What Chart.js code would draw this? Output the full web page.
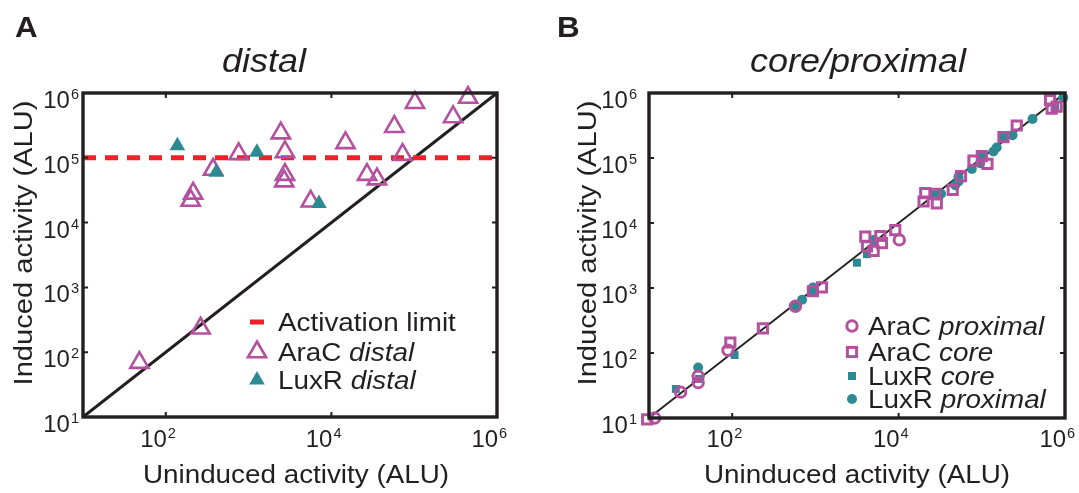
<!DOCTYPE html>
<html><head><meta charset="utf-8">
<script src="https://cdn.jsdelivr.net/npm/chart.js@4/dist/chart.umd.min.js"></script>
<style>
html,body{margin:0;padding:0;background:#fff;width:1079px;height:493px;overflow:hidden}
#wa{position:absolute;left:0;top:0;width:540px;height:493px}
#wb{position:absolute;left:540px;top:0;width:539px;height:493px}
</style></head><body>
<div id="wa"><canvas id="ca" width="540" height="493"></canvas></div>
<div id="wb"><canvas id="cb" width="539" height="493"></canvas></div>
<script>
// ---------- data ----------
const axisMin = 10, axisMax = 1e6;
const xTickExps = [2, 4, 6];          // labelled x ticks (10^e)
const yTickExps = [1, 2, 3, 4, 5, 6]; // labelled y ticks (10^e)
const activationLimit = 1e5;
const identityLine = [10, 1e6];

const panelTitles = ['distal', 'core/proximal'];
const panelLetters = ['A', 'B'];
const xAxisTitle = 'Uninduced activity (ALU)';
const yAxisTitle = 'Induced activity (ALU)';
const seriesNamesA = ['Activation limit', 'AraC distal', 'LuxR distal'];
const seriesNamesB = ['AraC proximal', 'AraC core', 'LuxR core', 'LuxR proximal'];

// Panel A — distal
const aracDistalX = [48, 263, 214, 200, 372, 759, 2450, 2750, 2750, 2690, 5620, 14800, 26900, 35500, 57500, 72400, 102000, 295000, 447000];
const aracDistalY = [69, 234, 28200, 21900, 66000, 115000, 240000, 123000, 55000, 43700, 21300, 170000, 55000, 46800, 302000, 112000, 708000, 427000, 851000];
const luxrDistalX = [138, 407, 1260, 7080];
const luxrDistalY = [153000, 59600, 122000, 19800];

// Panel B — core / proximal
const aracProximalX = [11.7, 24, 39, 39, 89, 575, 10200];
const aracProximalY = [10, 25, 44, 35, 110, 525, 5500];
const aracCoreX = [9.5, 95, 234, 933, 1200, 3980, 4170, 5010, 6030, 6310, 9120, 19950, 20900, 27500, 28800, 44700, 56200, 79400, 100000, 117000, 182000, 263000, 661000, 692000, 794000];
const aracCoreY = [9.5, 145, 240, 891, 1020, 6170, 4370, 3720, 6310, 4900, 7760, 21400, 28800, 28200, 19950, 32400, 52500, 91200, 107000, 81300, 209000, 316000, 776000, 575000, 617000];
const luxrCoreX = [21, 40, 107, 933, 3160, 4170, 5010, 27500, 100000, 182000, 759000];
const luxrCoreY = [28, 40, 93, 891, 2450, 3310, 5130, 27500, 107000, 209000, 631000];
const luxrProximalX = [39, 575, 692, 933, 5010, 32400, 47900, 52500, 52500, 75900, 95500, 138000, 151000, 234000, 407000, 955000];
const luxrProximalY = [60, 525, 661, 1020, 5500, 28200, 38000, 43700, 51300, 67600, 83200, 126000, 145000, 224000, 398000, 851000];

// ---------- style ----------
const INK = '#231f20', MAG = '#b4519e', TEAL = '#2c8a92', RED = '#ec2227';
const FAM = '"Liberation Sans", Arial, Helvetica, sans-serif';

function pts(xs, ys) { return xs.map((x, i) => ({ x: x, y: ys[i] })); }

function drawText(ctx, str, x, y, font, sx, align) {
  ctx.save();
  ctx.font = font;
  const w = ctx.measureText(str).width * sx;
  let x0 = x;
  if (align === 'center') x0 = x - w / 2; else if (align === 'right') x0 = x - w;
  ctx.translate(x0, y); ctx.scale(sx, 1);
  ctx.textAlign = 'left'; ctx.textBaseline = 'alphabetic';
  ctx.fillText(str, 0, 0);
  ctx.restore();
  return w;
}
function measure(ctx, str, font, sx) { ctx.save(); ctx.font = font; const w = ctx.measureText(str).width * sx; ctx.restore(); return w; }

const TICKF = '23px ' + FAM, SUPF = '14px ' + FAM;
function drawPow(ctx, e, x, base, mode) {
  const wTen = measure(ctx, '10', TICKF, 1.04), wSup = measure(ctx, String(e), SUPF, 1.04);
  let x0 = mode === 'right' ? x - wTen - 1 - wSup : x - wTen;
  drawText(ctx, '10', x0, base, TICKF, 1.04, 'left');
  drawText(ctx, String(e), x0 + wTen + 1, base - 9, SUPF, 1.04, 'left');
}

function drawMarker(ctx, kind, x, y) {
  ctx.save();
  if (kind === 'dash') {
    ctx.fillStyle = RED; ctx.fillRect(x - 7, y - 2.5, 14, 5);
  } else if (kind === 'triOpen' || kind === 'triFilled') {
    const r = kind === 'triOpen' ? 10.5 : 9;
    ctx.beginPath();
    ctx.moveTo(x, y - r);
    ctx.lineTo(x + Math.sin(2 * Math.PI / 3) * r, y + r / 2);
    ctx.lineTo(x - Math.sin(2 * Math.PI / 3) * r, y + r / 2);
    ctx.closePath();
    if (kind === 'triOpen') { ctx.strokeStyle = MAG; ctx.lineWidth = 2.6; ctx.stroke(); }
    else { ctx.fillStyle = TEAL; ctx.fill(); }
  } else if (kind === 'circOpen') {
    ctx.beginPath(); ctx.arc(x, y, 5.2, 0, 2 * Math.PI);
    ctx.strokeStyle = MAG; ctx.lineWidth = 3; ctx.stroke();
  } else if (kind === 'sqOpen') {
    ctx.strokeStyle = MAG; ctx.lineWidth = 3; ctx.strokeRect(x - 4.6, y - 4.6, 9.2, 9.2);
  } else if (kind === 'sqFilled') {
    ctx.fillStyle = TEAL; ctx.fillRect(x - 4, y - 4, 8, 8);
  } else if (kind === 'circFilled') {
    ctx.beginPath(); ctx.arc(x, y, 5, 0, 2 * Math.PI); ctx.fillStyle = TEAL; ctx.fill();
  }
  ctx.restore();
}

function decor(cfg) {
  return {
    id: 'decor' + cfg.letter,
    afterDraw(chart) {
      const ctx = chart.ctx, ca = chart.chartArea, xs = chart.scales.x, ys = chart.scales.y;
      ctx.save();
      ctx.fillStyle = INK; ctx.strokeStyle = INK;
      ctx.lineWidth = 3.4;
      ctx.strokeRect(ca.left, ca.top, ca.right - ca.left, ca.bottom - ca.top);
      ctx.lineWidth = 2; ctx.beginPath();
      xTickExps.forEach(e => {
        const v = Math.pow(10, e); if (v <= axisMin || v >= axisMax) return;
        const px = xs.getPixelForValue(v);
        ctx.moveTo(px, ca.bottom); ctx.lineTo(px, ca.bottom - 5);
        ctx.moveTo(px, ca.top); ctx.lineTo(px, ca.top + 5);
      });
      yTickExps.forEach(e => {
        const v = Math.pow(10, e); if (v <= axisMin || v >= axisMax) return;
        const py = ys.getPixelForValue(v);
        ctx.moveTo(ca.left, py); ctx.lineTo(ca.left + 5, py);
        ctx.moveTo(ca.right, py); ctx.lineTo(ca.right - 5, py);
      });
      ctx.stroke();
      ctx.fillStyle = INK;
      xTickExps.forEach(e => drawPow(ctx, e, xs.getPixelForValue(Math.pow(10, e)) + 1, 447, 'tenRight'));
      yTickExps.forEach(e => drawPow(ctx, e, cfg.yTickRight, ys.getPixelForValue(Math.pow(10, e)) + 15, 'right'));
      drawText(ctx, xAxisTitle, cfg.xTitleX, 483, '26px ' + FAM, 1.07, 'center');
      ctx.save();
      ctx.translate(cfg.yTitleX, cfg.yTitleY); ctx.rotate(-Math.PI / 2);
      drawText(ctx, yAxisTitle, 0, 0, '26px ' + FAM, 1.12, 'center');
      ctx.restore();
      drawText(ctx, cfg.title, cfg.titleX, 72, 'italic 33px ' + FAM, 1.09, 'center');
      drawText(ctx, cfg.letter, cfg.letterX, 37, 'bold 29px ' + FAM, 1.08, 'left');
      const LF = '26px ' + FAM, LFI = 'italic 26px ' + FAM;
      cfg.legend.forEach((row, i) => {
        const base = cfg.legendBase[i];
        drawMarker(ctx, row.marker, cfg.legendMarkerX, base - 9);
        ctx.fillStyle = INK;
        const words = row.name.split(' ');
        const italic = words[0] === 'AraC' || words[0] === 'LuxR';
        if (italic) {
          const w = drawText(ctx, words[0] + ' ', cfg.legendTextX, base, LF, 1.07, 'left');
          drawText(ctx, words.slice(1).join(' '), cfg.legendTextX + w, base, LFI, 1.07, 'left');
        } else {
          drawText(ctx, row.name, cfg.legendTextX, base, LF, 1.07, 'left');
        }
      });
      ctx.restore();
    }
  };
}

function logScales() {
  return {
    x: { type: 'logarithmic', min: axisMin, max: axisMax, display: false },
    y: { type: 'logarithmic', min: axisMin, max: axisMax, display: false }
  };
}

const commonOpts = (pad) => ({
  responsive: false, animation: false, devicePixelRatio: 1,
  layout: { padding: pad },
  scales: logScales(),
  plugins: { legend: { display: false }, tooltip: { enabled: false } },
  events: []
});

// ---------- Panel A ----------
new Chart(document.getElementById('ca'), {
  type: 'scatter',
  data: {
    datasets: [
      { label: seriesNamesA[1], data: pts(aracDistalX, aracDistalY), pointStyle: 'triangle', pointRadius: 10.5,
        borderWidth: 2.6, pointBorderWidth: 2.6, borderColor: MAG, backgroundColor: 'rgba(0,0,0,0)', order: 2, clip: false },
      { label: seriesNamesA[2], data: pts(luxrDistalX, luxrDistalY), pointStyle: 'triangle', pointRadius: 9,
        borderWidth: 0, pointBorderWidth: 0, borderColor: TEAL, backgroundColor: TEAL, order: 1, clip: false },
      { type: 'line', label: 'identity', data: pts(identityLine, identityLine), borderColor: INK, borderWidth: 3,
        pointRadius: 0, order: 6 },
      { type: 'line', label: seriesNamesA[0], data: pts(identityLine, [activationLimit, activationLimit]), borderColor: RED,
        borderWidth: 5, borderDash: [13, 9], pointRadius: 0, order: 5 }
    ]
  },
  options: commonOpts({ left: 83, right: 43, top: 93, bottom: 76 }),
  plugins: [decor({
    letter: panelLetters[0], title: panelTitles[0], titleX: 264, letterX: 15,
    yTickRight: 79, xTitleX: 296, yTitleX: 32, yTitleY: 243,
    legendMarkerX: 257, legendTextX: 278, legendBase: [331, 361, 389],
    legend: [{ name: seriesNamesA[0], marker: 'dash' }, { name: seriesNamesA[1], marker: 'triOpen' }, { name: seriesNamesA[2], marker: 'triFilled' }]
  })]
});

// ---------- Panel B ----------
new Chart(document.getElementById('cb'), {
  type: 'scatter',
  data: {
    datasets: [
      { label: seriesNamesB[0], data: pts(aracProximalX, aracProximalY), pointStyle: 'circle', pointRadius: 5.2,
        borderWidth: 3, pointBorderWidth: 3, borderColor: MAG, backgroundColor: 'rgba(0,0,0,0)', order: 1, clip: false },
      { label: seriesNamesB[1], data: pts(aracCoreX, aracCoreY), pointStyle: 'rect', pointRadius: 6.5,
        borderWidth: 3, pointBorderWidth: 3, borderColor: MAG, backgroundColor: 'rgba(0,0,0,0)', order: 2, clip: false },
      { label: seriesNamesB[2], data: pts(luxrCoreX, luxrCoreY), pointStyle: 'rect', pointRadius: 5.6,
        borderWidth: 0, pointBorderWidth: 0, borderColor: TEAL, backgroundColor: TEAL, order: 3, clip: false },
      { label: seriesNamesB[3], data: pts(luxrProximalX, luxrProximalY), pointStyle: 'circle', pointRadius: 5,
        borderWidth: 0, pointBorderWidth: 0, borderColor: TEAL, backgroundColor: TEAL, order: 4, clip: false },
      { type: 'line', label: 'identity', data: pts(identityLine, identityLine), borderColor: INK, borderWidth: 1.8,
        pointRadius: 0, order: 6 }
    ]
  },
  options: commonOpts({ left: 109, right: 14, top: 93, bottom: 75 }),
  plugins: [decor({
    letter: panelLetters[1], title: panelTitles[1], titleX: 318, letterX: 17,
    yTickRight: 97, xTitleX: 317, yTitleX: 56, yTitleY: 243,
    legendMarkerX: 312, legendTextX: 328, legendBase: [335, 361, 385, 408],
    legend: [{ name: seriesNamesB[0], marker: 'circOpen' }, { name: seriesNamesB[1], marker: 'sqOpen' },
             { name: seriesNamesB[2], marker: 'sqFilled' }, { name: seriesNamesB[3], marker: 'circFilled' }]
  })]
});
</script>
</body></html>
